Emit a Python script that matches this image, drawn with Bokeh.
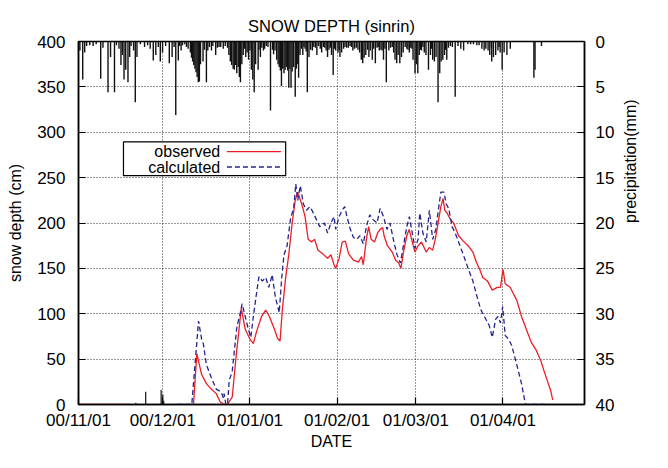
import math
import pandas as pd
from bokeh.plotting import figure
from bokeh.models import (Range1d, LinearAxis, FixedTicker, SingleIntervalTicker,
                          BoxAnnotation, Label, Arrow, ColumnDataSource)
from bokeh.embed import file_html
from bokeh.resources import INLINE

NaN = float("nan")

# ---------------- data ----------------
season_start = "2000-11-01"
season_end = "2001-04-30"
tick_dates = ["2000-11-01", "2000-12-01", "2001-01-01", "2001-02-01", "2001-03-01", "2001-04-01"]
tick_labels = ["00/11/01", "00/12/01", "01/01/01", "01/02/01", "01/03/01", "01/04/01"]

# observed snow depth: days since season start, depth (cm)
obs_day = [0, 18.6, NaN, 40.9, 42.1, 43.8, 45.5, 47.2, 49.0, 50.4,
           51.8, 53.0, 54.7, 55.9, 57.0, 57.9, 59.3, 61.0, 62.2, 63.3,
           65.1, 66.6, 67.9, 69.7, 70.8, 71.7, 72.5, 73.7, 74.8, 76.0,
           77.1, 78.0, 79.4, 80.6, 81.7, 82.9, 84.0, 85.2, 86.9, 88.6,
           89.8, 90.9, 91.5, 92.7, 93.8, 94.9, 96.1, 97.8, 99.6, 100.7,
           101.3, 102.4, 103.2, 104.1, 105.3, 106.4, 107.3, 108.2, 108.7, 109.9,
           111.6, 112.8, 113.9, 114.7, 115.6, 116.8, 117.6, 118.5, 119.7, 120.8,
           122.0, 123.7, 124.8, 126.0, 126.9, 127.7, 128.9, 129.7, 130.3, 131.1,
           132.3, 133.4, 134.6, 135.2, 136.9, 138.6, 140.3, 141.5, 142.7, 143.8,
           145.5, 147.2, 149.0, 150.1, 151.0, 151.8, 153.6, 154.7, 155.9, 157.6,
           159.3, 161.0, 162.8, 164.5, 165.6, 166.8, 167.9, 168.7]
obs_depth = [0, 0, NaN, 0, 56, 33, 23, 17, 12, 3,
             0, 0, 8.5, 48, 80, 106, 83, 72, 67, 80,
             97, 104, 97, 83, 73, 70, 104, 140, 165, 200,
             225, 234, 221, 207, 182, 179, 182, 170, 166, 161,
             165, 154, 150, 161, 179, 180, 166, 159, 157, 163,
             154, 182, 196, 182, 179, 189, 193, 195, 186, 175,
             168, 159, 156, 150, 168, 186, 193, 182, 168, 175,
             179, 168, 173, 170, 182, 196, 218, 227, 214, 211,
             204, 200, 191, 186, 180, 175, 168, 157, 149, 140,
             136, 126, 129, 129, 149, 133, 129, 122, 115, 97,
             83, 69, 60, 48, 37, 26, 16, 5]

# calculated snow depth
calc_day = [35.2, 40.3, 42.7, 43.8, 44.4, 45.5, 47.2, 49.0, 50.7, 51.6,
            51.8, 52.4, 53.0, 53.6, 54.7, 55.3, 56.4, 57.3, 58.2, 59.3,
            60.4, 61.3, 62.2, 63.3, 64.2, 65.4, 66.6, 67.7, 68.9, 70.0,
            71.4, 72.3, 73.1, 74.2, 75.4, 76.6, 77.3, 78.0, 78.9, 80.0,
            81.1, 82.3, 83.4, 84.6, 85.8, 87.5, 88.6, 89.8, 90.9, 91.5,
            92.7, 93.8, 94.7, 95.5, 96.7, 97.8, 99.0, 100.1, 101.3, 102.4,
            103.6, 104.7, 106.2, 107.3, 108.5, 109.7, 110.8, 112.2, 113.3, 114.5,
            115.6, 116.8, 117.7, 118.5, 119.7, 120.8, 121.4, 122.5, 123.7, 124.8,
            126.0, 127.1, 128.0, 128.9, 130.0, 130.8, 131.7, 132.9, 134.0, 135.2,
            136.9, 138.6, 140.3, 142.1, 143.2, 144.9, 146.1, 147.2, 148.4, 149.2,
            150.1, 150.9, 151.8, 153.0, 154.1, 155.9, 157.6, 159.0, 167.2]
calc_depth = [0, 0, 92, 72, 67, 44, 30, 17, 14, 7,
              12, 0, 0, 26, 37, 55, 87, 97, 111, 97,
              83, 74, 97, 122, 141, 136, 140, 129, 143, 119,
              101, 140, 165, 175, 204, 218, 243, 225, 241, 221,
              214, 218, 212, 204, 196, 200, 189, 200, 207, 193,
              207, 214, 218, 207, 193, 184, 182, 186, 177, 196,
              209, 204, 200, 216, 207, 193, 200, 179, 165, 156,
              175, 196, 207, 193, 172, 182, 211, 189, 179, 214,
              182, 193, 214, 234, 234, 221, 216, 196, 189, 179,
              165, 150, 136, 115, 104, 94, 87, 74, 94, 97,
              90, 108, 76, 72, 65, 44, 23, 0, 0]

# small black impulses on the snow-depth axis
spike_day = [20.4, 23.9, 29.4, 30.0, 30.3]
spike_cm = [2, 14, 16, 11, 4]

# precipitation impulses (mm), hanging from the top
precip_day = [0.5, 1.5, 2.2, 2.9, 4.0, 5.2, 6.3, 7.9, 8.7, 10.5,
              11.4, 12.8, 13.5, 14.4, 15.1, 15.6, 16.2, 16.8, 17.6, 18.2,
              18.7, 19.6, 20.2, 20.8, 22.0, 23.5, 24.6, 25.5, 26.6, 27.5,
              28.4, 29.1, 29.9, 31.0, 32.3, 33.3, 34.0, 34.6, 35.5, 36.5,
              37.8, 39.8, 40.2, 40.6, 41.0, 41.4, 41.8, 42.2, 42.6, 43.0,
              43.4, 44.3, 45.5, 46.0, 47.3, 48.8, 50.0, 51.5, 53.0, 53.5,
              54.0, 54.5, 55.0, 55.4, 55.8, 56.3, 56.8, 57.2, 57.6, 58.1,
              58.6, 59.5, 60.5, 61.5, 62.0, 62.5, 63.0, 63.9, 64.7, 65.8,
              66.8, 68.3, 69.4, 70.5, 71.0, 71.4, 71.8, 72.2, 72.6, 73.1,
              73.5, 73.9, 74.4, 74.8, 75.2, 75.6, 76.0, 76.5, 77.1, 77.5,
              78.0, 78.3, 78.8, 79.8, 80.6, 81.4, 82.0, 83.2, 84.8, 86.5,
              87.6, 88.6, 90.0, 90.6, 91.5, 92.3, 93.0, 93.6, 94.3, 96.0,
              97.6, 100.0, 100.6, 101.1, 101.6, 102.2, 103.3, 104.5, 105.6, 107.0,
              108.5, 109.5, 110.4, 112.1, 112.6, 113.2, 113.7, 114.3, 114.9, 115.5,
              117.7, 119.0, 119.7, 120.2, 120.7, 121.2, 122.0, 123.0, 123.6, 124.5,
              125.2, 126.0, 126.6, 127.2, 127.9, 128.5, 129.0, 129.6, 130.2, 131.0,
              133.0, 134.0, 135.0, 136.0, 137.0, 138.5, 141.7, 143.5, 144.3, 144.9,
              145.7, 146.3, 147.0, 147.6, 148.4, 149.2, 150.0, 150.7, 151.4, 152.4,
              153.6, 162.0, 162.4, 164.7]
precip_mm = [1.0, 4.2, 1.2, 0.5, 0.4, 0.5, 0.3, 4.1, 0.7, 5.6,
             1.7, 5.6, 0.4, 0.8, 2.6, 1.5, 4.2, 3.1, 4.5, 1.7,
             0.5, 1.0, 6.7, 1.7, 0.3, 0.6, 0.4, 0.8, 2.1, 1.5,
             0.6, 2.2, 1.2, 0.5, 2.4, 1.7, 0.6, 8.1, 2.1, 1.0,
             0.3, 1.2, 1.8, 2.2, 2.6, 3.0, 3.4, 3.9, 4.5, 4.4,
             2.5, 2.2, 4.5, 1.0, 1.0, 1.5, 0.6, 0.8, 0.7, 1.5,
             2.2, 2.6, 3.0, 3.1, 2.6, 3.5, 2.8, 3.9, 4.5, 2.5,
             1.5, 1.7, 2.0, 3.1, 4.2, 5.6, 2.5, 3.1, 1.7, 1.0,
             0.5, 7.6, 1.4, 2.0, 2.5, 2.8, 3.2, 4.9, 3.0, 3.5,
             3.1, 2.8, 3.2, 5.1, 3.0, 5.1, 3.3, 2.8, 6.1, 3.0,
             2.5, 4.0, 1.5, 1.5, 0.8, 5.6, 1.7, 1.0, 1.5, 1.2,
             0.7, 1.7, 1.5, 3.7, 1.0, 1.2, 1.7, 1.2, 0.8, 0.7,
             1.0, 1.2, 2.0, 2.4, 1.8, 1.5, 1.7, 2.0, 2.4, 1.0,
             2.0, 4.5, 1.0, 1.2, 2.0, 2.4, 1.5, 2.4, 1.7, 1.2,
             1.2, 2.0, 3.5, 2.5, 3.5, 1.5, 1.0, 1.2, 1.5, 3.1,
             1.5, 2.0, 2.2, 1.7, 6.7, 3.5, 2.2, 2.0, 1.5, 2.0,
             0.6, 6.1, 0.5, 0.8, 1.0, 0.3, 0.4, 0.8, 1.0, 0.8,
             1.0, 1.5, 2.2, 1.7, 1.5, 1.0, 1.2, 3.1, 1.2, 1.5,
             0.8, 4.0, 3.1, 0.5]

# the many light precipitation events forming the dense band at the top
light_day = [36.0, 37.0, 38.4, 39.0, 44.8, 46.6, 47.8, 49.4, 50.6, 52.2,
             59.0, 60.0, 61.0, 64.2, 65.2, 66.2, 67.4, 69.0, 69.9, 79.3,
             80.2, 81.0, 82.6, 83.7, 84.3, 85.4, 86.0, 87.1, 88.1, 89.1,
             89.6, 91.0, 92.7, 94.8, 95.4, 96.6, 97.1, 98.2, 98.8, 99.4,
             102.8, 103.8, 105.0, 106.2, 106.6, 107.6, 108.0, 109.0, 111.0, 111.6,
             116.2, 116.8, 117.2, 118.2, 118.6, 121.6, 122.5, 125.6, 130.6, 131.6,
             132.3, 139.5, 140.5, 142.5, 146.9, 149.6]
light_mm = [0.5, 0.4, 0.6, 0.8, 0.9, 0.6, 0.5, 0.7, 0.6, 0.5,
            0.8, 1.2, 1.0, 0.9, 0.7, 0.8, 0.6, 0.9, 1.0, 0.8,
            0.6, 1.1, 0.9, 0.6, 0.7, 0.5, 0.8, 0.6, 1.0, 0.9,
            0.7, 0.8, 0.9, 0.6, 0.7, 0.5, 0.6, 0.8, 0.7, 0.9,
            0.9, 1.0, 0.8, 0.7, 0.6, 0.9, 1.0, 0.8, 0.7, 0.6,
            0.6, 0.8, 0.9, 0.7, 0.8, 0.9, 0.6, 0.8, 0.9, 0.7,
            0.5, 0.3, 0.3, 0.4, 0.7, 0.6]

# ---------------- figure ----------------
t0 = pd.Timestamp(season_start)
x_end = (pd.Timestamp(season_end) - t0).days
tick_days = [int((pd.Timestamp(d) - t0).days) for d in tick_dates]

FONT = "Liberation Sans"

p = figure(width=652, height=452, output_backend="svg", toolbar_location=None,
           x_range=Range1d(0, x_end), y_range=Range1d(0, 400),
           min_border_left=78, min_border_right=68, min_border_top=41, min_border_bottom=48,
           title="SNOW DEPTH (sinrin)")
p.extra_y_ranges = {"precip": Range1d(40, 0)}

p.title.align = "center"
p.title.text_font = FONT
p.title.text_font_size = "16.5px"
p.title.text_font_style = "normal"
p.title.text_color = "black"
p.title.standoff = 13

p.outline_line_color = "black"
p.outline_line_width = 1.5
p.background_fill_color = "white"
p.border_fill_color = "white"

xa = p.xaxis[0]
xa.ticker = FixedTicker(ticks=tick_days)
xa.major_label_overrides = {d: lab for d, lab in zip(tick_days, tick_labels)}
xa.axis_label = "DATE"

ya = p.yaxis[0]
ya.ticker = SingleIntervalTicker(interval=50)
ya.axis_label = "snow depth (cm)"

ya2 = LinearAxis(y_range_name="precip", ticker=SingleIntervalTicker(interval=5),
                 axis_label="precipitation(mm)")
p.add_layout(ya2, "right")
try:
    ya2.axis_label_orientation = math.pi / 2
except Exception:
    pass

for ax in [xa, ya, ya2]:
    ax.major_label_text_font = FONT
    ax.major_label_text_font_size = "17px"
    ax.major_label_text_color = "black"
    ax.axis_label_text_font = FONT
    ax.axis_label_text_font_size = "16px"
    ax.axis_label_text_font_style = "normal"
    ax.axis_label_text_color = "black"
    ax.axis_line_color = "black"
    ax.axis_line_width = 1.5
    ax.major_tick_in = 7
    ax.major_tick_out = 0
    ax.major_tick_line_color = "black"
    ax.major_tick_line_width = 1.2
    ax.minor_tick_line_color = None
xa.major_label_standoff = 6
xa.axis_label_standoff = 0
ya.major_label_standoff = 9
ya.axis_label_standoff = 10
ya2.major_label_standoff = 7
ya2.axis_label_standoff = 13

for g in [p.xgrid[0], p.ygrid[0]]:
    g.grid_line_color = "black"
    g.grid_line_dash = "1 2"
    g.grid_line_width = 1
    g.grid_line_alpha = 0.8

# precipitation impulses
all_day = precip_day + light_day
all_mm = precip_mm + light_mm
psrc = ColumnDataSource(dict(d=all_day, mm=all_mm, z=[0] * len(all_day)))
p.segment(x0="d", y0="z", x1="d", y1="mm", source=psrc, y_range_name="precip",
          line_color="#111111", line_width=1.4)

ssrc = ColumnDataSource(dict(d=spike_day, cm=spike_cm, z=[0] * len(spike_day)))
p.segment(x0="d", y0="z", x1="d", y1="cm", source=ssrc, line_color="#111111", line_width=1.2)

RED = "#ee1c25"
BLUE = "#23238f"
p.line(obs_day, obs_depth, line_color=RED, line_width=1.3)
p.line(calc_day, calc_depth, line_color=BLUE, line_width=1.3, line_dash="5 3")

# legend (drawn by hand: label left, sample right)
p.add_layout(BoxAnnotation(left=16.0, right=73.7, bottom=252.1, top=289.4,
                           fill_color="white", fill_alpha=1.0,
                           line_color="black", line_width=1.2, line_alpha=1.0))
p.add_layout(Arrow(x_start=52.8, y_start=278.7, x_end=72.0, y_end=278.7, end=None,
                   line_color=RED, line_width=1.3))
p.add_layout(Arrow(x_start=52.8, y_start=261.7, x_end=72.0, y_end=261.7, end=None,
                   line_color=BLUE, line_width=1.3, line_dash="5 3"))
for txt, yy in [("observed", 278.7), ("calculated", 261.7)]:
    p.add_layout(Label(x=50.4, y=yy, text=txt, text_align="right", text_baseline="middle",
                       text_font=FONT, text_font_size="16px", text_color="black"))

open("out.html", "w").write(file_html(p, INLINE))
